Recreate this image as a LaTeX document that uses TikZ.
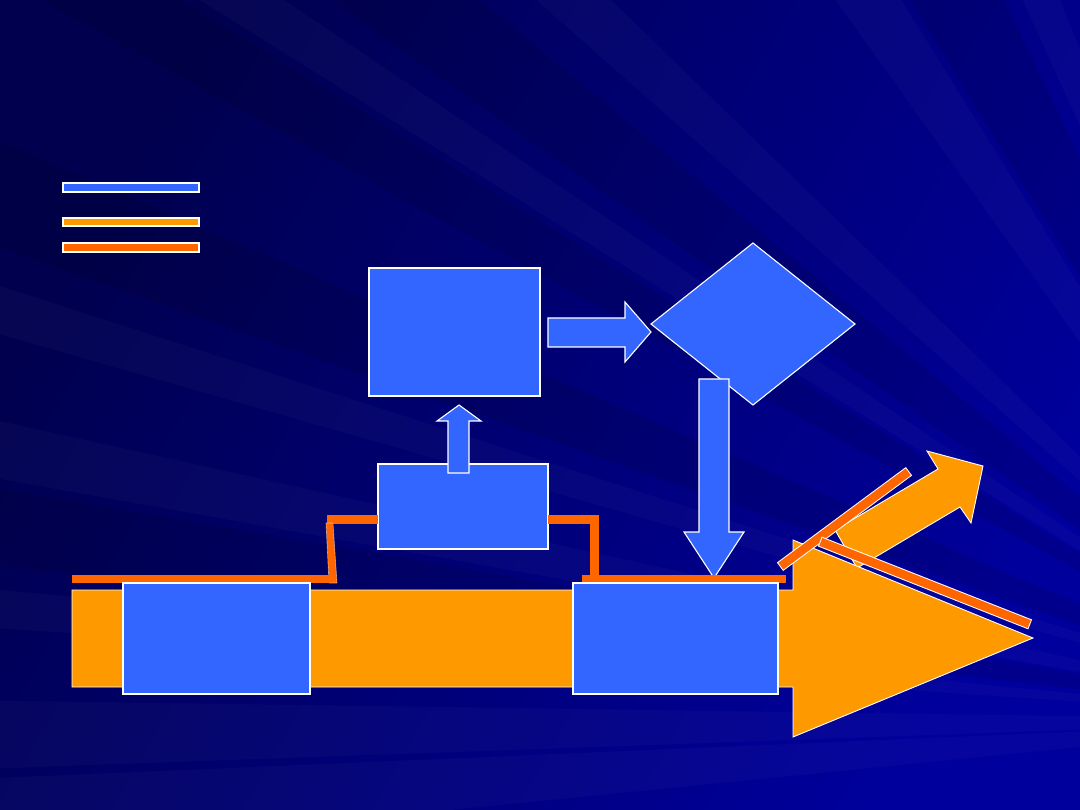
\documentclass[tikz,border=0pt]{standalone}
\usetikzlibrary{shapes.geometric}
\definecolor{bblue}{HTML}{3366FF}
\definecolor{borange}{HTML}{FF9900}
\definecolor{bred}{HTML}{FF6600}
\definecolor{bgdark}{HTML}{00004E}
\definecolor{bglight}{HTML}{00009C}
\begin{document}
\begin{tikzpicture}[x=1pt,y=-1pt,
  box/.style={draw=white,line width=1.1pt,fill=bblue,inner sep=0pt,outer sep=0pt},
  blockarrow/.style={draw=white,line width=1.1pt,fill=bblue,line join=miter},
  orangeshape/.style={draw=white,line width=0.9pt,fill=borange,line join=miter},
  legendbar/.style={draw=white,line width=1.1pt},
  pipe/.style={fill=bred},
  raylight/.style={fill=white,opacity=0.025},
  raydark/.style={fill=black,opacity=0.1}]
% background
\useasboundingbox (0,0) rectangle (1080,810);
\shade[left color=bgdark,right color=bglight,shading angle=60] (0,0) rectangle (1080,810);
\coordinate (O) at (1350,720);
\fill[raydark] (O) -- (-50,480) -- (-50,560) -- cycle;
\fill[raydark] (O) -- (-50,120) -- (-50,230) -- cycle;
\fill[raydark] (O) -- (260,-50) -- (420,-50) -- cycle;
\fill[raydark] (O) -- (880,-50) -- (980,-50) -- cycle;
\fill[raydark] (O) -- (-50,-50) -- (100,-50) -- cycle;
\fill[raylight] (O) -- (-50,585) -- (-50,625) -- cycle;
\fill[raylight] (O) -- (-50,410) -- (-50,470) -- cycle;
\fill[raylight] (O) -- (-50,270) -- (-50,320) -- cycle;
\fill[raylight] (O) -- (120,-50) -- (210,-50) -- cycle;
\fill[raylight] (O) -- (480,-50) -- (560,-50) -- cycle;
\fill[raylight] (O) -- (800,-50) -- (870,-50) -- cycle;
\fill[raylight] (O) -- (1000,-50) -- (1040,-50) -- cycle;
\fill[raylight] (O) -- (-50,700) -- (-50,770) -- cycle;
\fill[raylight] (O) -- (-50,780) -- (-50,860) -- cycle;
% legend
\draw[legendbar,fill=bblue] (63,183) rectangle (199,192);
\draw[legendbar,fill=borange] (63,218) rectangle (199,226);
\draw[legendbar,fill=bred] (63,243) rectangle (199,252);
% top box, diamond, arrows
\node[box,minimum width=171pt,minimum height=128pt] (topbox) at (454.5,332) {};
\node[box,diamond,minimum width=204pt,minimum height=162pt] (decide) at (753,324) {};
\draw[blockarrow] (548,318) -- (625,318) -- (625,302) -- (651,332) -- (625,362) -- (625,347) -- (548,347) -- cycle;
\draw[blockarrow] (699,379) -- (729,379) -- (729,532) -- (744,532) -- (714,578) -- (684,532) -- (699,532) -- cycle;
% middle box and up arrow
\node[box,minimum width=170pt,minimum height=85pt] (midbox) at (463,506.5) {};
\draw[blockarrow] (448,473) -- (448,421) -- (437,421) -- (459,405) -- (481,421) -- (469,421) -- (469,473) -- cycle;
% pipes
\fill[pipe] (327,515) rectangle (378,524);
\draw[pipe,draw=white,draw opacity=0.5,line width=0.6pt] (326,523) -- (333,523) -- (337,583) -- (329,583) -- cycle;
\fill[pipe] (72,575) rectangle (330,583);
\fill[pipe] (548,515) rectangle (595,524);
\fill[pipe] (590,515) rectangle (599,575);
\fill[pipe] (582,575) rectangle (786,583);
% diagonal orange arrow
\draw[orangeshape] (835,530) -- (938,469) -- (927,451) -- (983,466) -- (971,523) -- (960,507) -- (857,568) -- cycle;
% big orange arrow
\draw[orangeshape] (72,590) -- (793,590) -- (793,540) -- (1033,638) -- (793,737) -- (793,687) -- (72,687) -- cycle;
% bottom boxes
\node[box,minimum width=187pt,minimum height=111pt] (leftbox) at (216.5,638.5) {};
\node[box,minimum width=205pt,minimum height=111pt] (rightbox) at (675.5,638.5) {};
% diagonal bars
\coordinate (b1a) at (781,566);
\coordinate (b1b) at (908,472);
\coordinate (b2a) at (821,542);
\coordinate (b2b) at (1029,624);
\draw[white,line width=10.5pt,line cap=rect,shorten <=4pt,shorten >=4pt] (b1a) -- (b1b);
\draw[bred,line width=8.5pt,line cap=rect,shorten <=4pt,shorten >=4pt] (b1a) -- (b1b);
\draw[white,line width=10.5pt,line cap=rect,shorten <=4pt,shorten >=4pt] (b2a) -- (b2b);
\draw[bred,line width=8.5pt,line cap=rect,shorten <=4pt,shorten >=4pt] (b2a) -- (b2b);
\end{tikzpicture}
\end{document}
